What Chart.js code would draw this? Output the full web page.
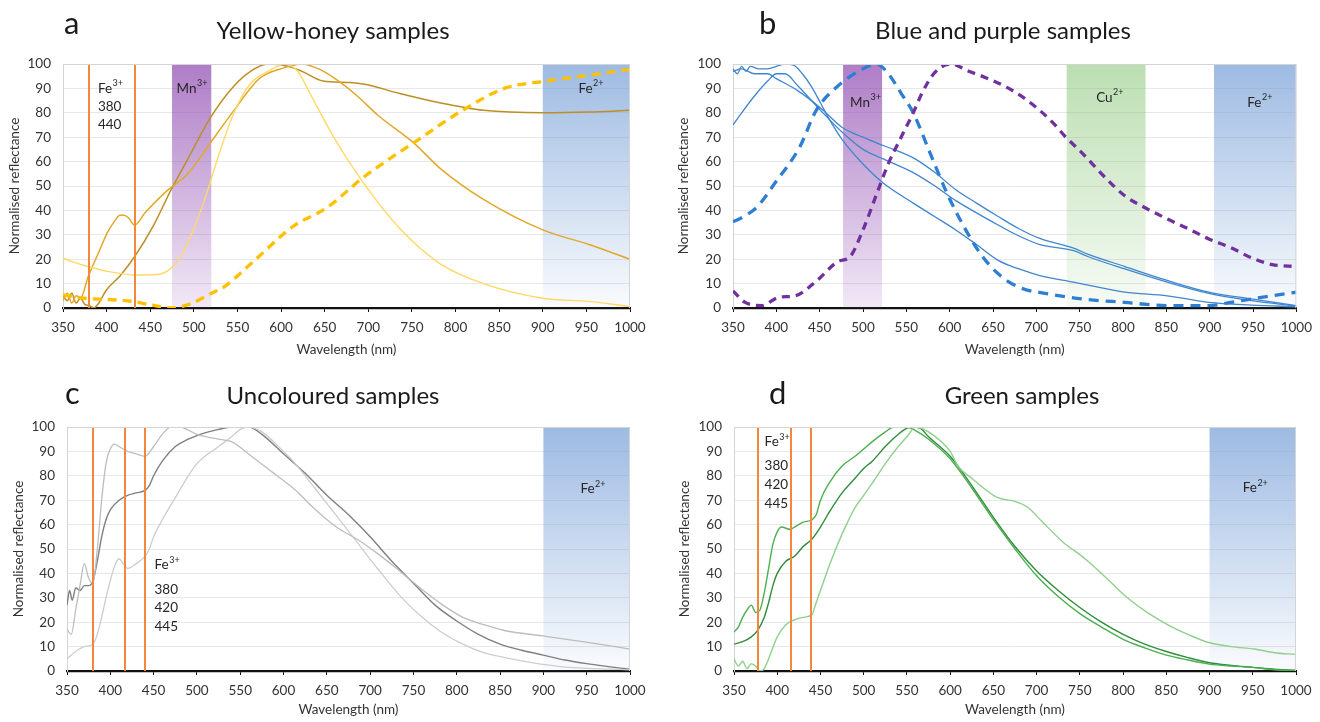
<!DOCTYPE html>
<html><head><meta charset="utf-8">
<script src="https://cdn.jsdelivr.net/npm/chart.js@4.4.1/dist/chart.umd.min.js"></script>
<style>
html,body{margin:0;padding:0;background:#fff;}
#wrap{position:relative;width:1320px;height:722px;overflow:hidden;}
canvas{position:absolute;}
</style></head><body>
<div id="wrap">
<canvas id="ca" width="660" height="361" style="left:0;top:0"></canvas>
<canvas id="cb" width="660" height="361" style="left:660px;top:0"></canvas>
<canvas id="cc" width="660" height="361" style="left:0;top:361px"></canvas>
<canvas id="cd" width="660" height="361" style="left:660px;top:361px"></canvas>
</div>
<script>
// ---------- axis ticks ----------
const xTickValues = [350,400,450,500,550,600,650,700,750,800,850,900,950,1000];
const yTickValues = [0,10,20,30,40,50,60,70,80,90,100];

// ---------- panel a : Yellow-honey ----------
const waveA_dark = [350,355,360,365,370,375,380,385,390,400,415,432,454,474,493,519,546,565,585,609,624,648,677,696,735,783,832,900,953,1000];
const valA_dark  = [5,3,6,2,4,1.5,1,0,1.5,7.5,13,21,34,48.5,61,78,91,97,100,99,97,93,92.4,91.7,88,84,81,80,80.3,81];
const waveA_mid  = [350,355,360,365,370,379,390,401,410,415,420,425,432,444,469,493,519,546,575,604,624,643,662,687,711,752,783,832,900,953,1000];
const valA_mid   = [3,6,2,5,4,13,22,31,36,38,38,37,34,39,48,55,67.7,81,94,98.5,100,98,94,87,79,67.7,57,44.5,32,26,20];
const waveA_pale = [350,360,379,401,435,454,469,483,498,512,527,546,565,585,605,619,633,662,691,735,783,832,900,953,1000];
const valA_pale  = [20.5,19,17,15,13.5,13.6,15,20,30.7,44,61,80,92,97,100,97,88,69,53,33,18,10,4,2.7,0.6];
const waveA_dash = [350,365,380,400,430,450,475,498,520,536,565,614,652,696,752,808,856,904,953,1000];
const valA_dash  = [5.4,4.5,3.8,3.5,2.7,1.3,0,2,6,9,18,33.5,41,54,67.7,81,90,93,95.4,97.8];
const linesA = [380,433];

// ---------- panel b : Blue and purple ----------
const waveB_s1 = [350,360,375,390,400,410,425,451,476,500,524,558,583,607,631,656,680,704,743,760,802,851,899,948,1000];
const valB_s1  = [75,80,87,93,96,96,91,81,72,65,61,55.5,50,44,39,34,29.5,26,23.5,21,16,10.6,6,3,0.8];
const waveB_s2 = [350,360,375,390,400,425,451,476,500,524,558,583,607,631,656,680,704,743,760,802,851,899,948,1000];
const valB_s2  = [97,98,96,96,94,89,82,74,70,66.5,61.5,55.5,48.5,43,37.5,32.5,28.5,24.5,22,17,11.3,6.5,3.7,1];
const waveB_s3 = [350,355,360,365,370,380,390,400,410,420,430,440,451,460,476,500,524,558,583,607,631,656,680,704,743,802,851,899,948,1000];
const valB_s3  = [98,96,99,97,99,98,98,99,100,99.5,96,91,84,78,69,59,51,43,37.4,32,26,19.5,16,13.3,10.6,6.5,5,2.3,1.2,0.5];
const waveB_dash = [350,360,378,398,427,446,471,500,515,527,544,558,578,597,617,636,656,680,714,753,802,851,899,924,948,972,1000];
const valB_dash  = [35.4,37,41.5,51,66,81,91,98,100,97,88,80,63,47,33,22,14,8.5,5.8,3.7,2.3,1,1,2.3,3.7,5,6.5];
const waveB_pur  = [350,364,383,403,422,446,471,485,500,515,529,544,558,568,583,602,622,641,666,690,719,734,753,778,802,826,851,875,899,924,948,972,1000];
const valB_pur   = [7,2.3,1,4.4,5,11,19,21,32,46,59,70,80,88,96.6,100,97,94.5,90.4,85,76,70,63.5,54,46,41,36.5,32.5,28.3,24.8,20.6,17.8,17];

// ---------- panel c : Uncoloured ----------
const waveC_dark = [350,353,356,360,365,370,375,380,385,390,395,400,410,420,430,440,445,450,460,475,490,500,525,540,550,560,575,600,625,650,675,700,725,750,775,800,825,850,875,900,925,950,975,1000];
const valC_dark  = [27,33,29,34,33,35,35,37,45,55,62,66,70,72,73,74,76,80,86,92,95,96.5,99,100,100,100,97,89,81,72,64,55,45,36,27,20.5,15,11,8.5,6.5,4.5,3,1.8,0.7];
const waveC_l1   = [350,360,370,380,385,390,395,400,405,410,415,420,430,440,445,450,460,475,490,500,525,540,550,560,575,600,612,636,661,685,709,734,758,782,807,831,856,880,899,925,950,975,1000];
const valC_l1    = [5,8,10,11,15,22,30,37,43,46,44,42,44,47,50,55,62,71,80,85,92,96,99,100,98,90,85.6,75,63.7,52.7,41.8,31,22.6,16,11,7.5,5.5,3.8,2.7,1.6,1.1,0.8,0.5];
const waveC_l2   = [350,355,360,365,370,375,380,385,390,395,400,405,410,420,430,440,450,460,470,480,500,525,540,563,587,612,636,661,685,709,734,758,782,807,831,856,899,953,1000];
const valC_l2    = [17,15,25,35,44,38,36,50,70,85,91,93,92,90,89,88,92,97,100,100,97,95,94,88,81.5,74.7,66.4,59,54,48,41,34,27.5,22,19,16.5,14.4,11.6,9];
const linesC = [380,417,440];

// ---------- panel d : Green ----------
const waveD_1 = [350,355,360,365,370,375,380,385,390,395,400,405,415,420,430,440,445,450,460,475,490,500,510,525,535,550,560,575,600,625,650,675,700,725,750,775,800,825,850,875,900,925,950,975,1000];
const valD_1  = [16,18,22,25,27,24,25,32,42,52,57,59,58,59,61,62,64,70,77,84,88,91,94,98,100,100,98.5,95,87,75,62,50,39,30.5,23.5,18,13,9.5,6.5,4.5,2.8,2,1.5,0.5,0.2];
const waveD_2 = [350,360,370,378,385,390,395,400,410,420,430,440,450,460,475,490,500,510,525,540,550,555,565,575,600,625,650,675,700,725,750,775,800,825,850,875,900,925,950,975,1000];
const valD_2  = [11,12,14,17,22,28,35,40,45,47,51,54,59,65,73,79,83,86,92,97,99.5,100,99.5,96,88,76,63,51,41,33,26,20,15,11,8,5.5,3.4,2.3,1.5,0.7,0.3];
const waveD_3 = [350,355,360,365,370,375,380,385,390,400,410,420,430,440,445,450,460,470,480,490,500,510,525,540,550,560,575,600,609,625,650,660,675,690,707,730,756,781,805,830,854,875,898,925,952,975,1000];
const valD_3  = [5,2,4,1,3,2,0,1,5,14,19,21,22,23,28,33,43,52,60,67,72,77,85,92,96,100,98,90,84,79,72,70.5,69.5,67,61,53,46,38,30,23.5,18.5,15,11.8,10,9,7.5,6.8];
const linesD = [378,416,439];

// ---------- styling ----------
const FONT = 'Lato, "Open Sans", sans-serif';
const ORANGE = '#F4873A';
const BAND_FE2 = ['rgba(120,160,215,0.72)','rgba(120,160,215,0.04)'];
const BAND_MN3 = ['rgba(140,70,175,0.70)','rgba(140,70,175,0.12)'];
const BAND_CU2 = ['rgba(120,190,100,0.50)','rgba(120,190,100,0.06)'];

function pts(xs, ys){ return xs.map((x,i)=>({x:x, y:ys[i]})); }
function solid(xs, ys, color, w){ return {data:pts(xs,ys), borderColor:color, borderWidth:w||1.4, pointRadius:0, cubicInterpolationMode:'monotone', fill:false}; }
function dashed(xs, ys, color, w, dash){ return {data:pts(xs,ys), borderColor:color, borderWidth:w||3, borderDash:dash||[9,6], pointRadius:0, cubicInterpolationMode:'monotone', fill:false}; }

function drawLabel(ctx, txt, sup, px, py, align){
  const LS = 13.5, SS = 9;
  ctx.font = LS+'px '+FONT; const w1 = ctx.measureText(txt).width;
  ctx.font = SS+'px '+FONT; const w2 = sup ? ctx.measureText(sup).width : 0;
  const x0 = align==='center' ? px-(w1+w2)/2 : px;
  ctx.textAlign='left'; ctx.textBaseline='middle'; ctx.fillStyle='#262626';
  ctx.font = LS+'px '+FONT; ctx.fillText(txt, x0, py);
  if (sup){ ctx.font = SS+'px '+FONT; ctx.fillText(sup, x0+w1+0.5, py-5); }
}

function makeChart(id, cfg){
  const area = cfg.area, ox = cfg.ox, oy = cfg.oy;
  const deco = {
    id:'deco'+id,
    beforeDatasetsDraw(chart){
      const ctx = chart.ctx, ca = chart.chartArea, x = chart.scales.x;
      ctx.save();
      cfg.bands.forEach(b=>{
        const x0 = x.getPixelForValue(b.from), x1 = x.getPixelForValue(b.to);
        const g = ctx.createLinearGradient(0, ca.top, 0, ca.bottom);
        g.addColorStop(0, b.c[0]); g.addColorStop(1, b.c[1]);
        ctx.fillStyle = g; ctx.fillRect(x0, ca.top, x1-x0, ca.bottom-ca.top);
      });
      ctx.restore();
    },
    afterDatasetsDraw(chart){
      const ctx = chart.ctx, ca = chart.chartArea, x = chart.scales.x, y = chart.scales.y;
      ctx.save();
      cfg.lines.forEach(v=>{
        const px = Math.round(x.getPixelForValue(v));
        ctx.strokeStyle = ORANGE; ctx.lineWidth = 2;
        ctx.beginPath(); ctx.moveTo(px, ca.top); ctx.lineTo(px, ca.bottom); ctx.stroke();
      });
      cfg.labels.forEach(l=>{
        drawLabel(ctx, l.t, l.s, x.getPixelForValue(l.x), y.getPixelForValue(l.y), l.a);
      });
      ctx.strokeStyle = '#D4D4D4'; ctx.lineWidth = 1;
      ctx.beginPath();
      ctx.moveTo(ca.left, ca.top+0.5); ctx.lineTo(ca.right-0.5, ca.top+0.5); ctx.lineTo(ca.right-0.5, ca.bottom);
      ctx.stroke();
      ctx.restore();
    },
    afterDraw(chart){
      const ctx = chart.ctx, ca = chart.chartArea;
      ctx.save();
      ctx.fillStyle = '#1a1a1a';
      ctx.textBaseline = 'alphabetic';
      ctx.textAlign = 'left';
      ctx.font = '31px '+FONT;
      ctx.fillText(cfg.letter[0], cfg.letter[1]-ox, cfg.letter[2]-oy);
      ctx.textAlign = 'center';
      ctx.font = '24px '+FONT;
      ctx.fillText(cfg.title[0], cfg.title[1]-ox, cfg.title[2]-oy);
      ctx.fillStyle = '#333';
      ctx.font = '13.5px '+FONT;
      ctx.textBaseline = 'middle';
      ctx.fillText('Wavelength (nm)', (ca.left+ca.right)/2, ca.bottom + cfg.xTitleOff);
      ctx.translate(cfg.yTitleX-ox, (ca.top+ca.bottom)/2);
      ctx.rotate(-Math.PI/2);
      ctx.fillText('Normalised reflectance', 0, 0);
      ctx.restore();
    }
  };
  return new Chart(document.getElementById(id), {
    type:'line',
    data:{datasets:cfg.datasets},
    options:{
      responsive:false, animation:false, events:[],
      layout:{padding:{left:0, top:area.t-oy, right:660-(area.r-ox), bottom:0}},
      plugins:{legend:{display:false}, tooltip:{enabled:false}, title:{display:false}},
      scales:{
        x:{type:'linear', min:350, max:1000,
          afterBuildTicks(s){ s.ticks = xTickValues.map(v=>({value:v})); },
          ticks:{autoSkip:false, maxRotation:0, minRotation:0, padding:8, color:'#333', font:{family:FONT, size:13.5},
                 callback:(v)=>String(v)},
          grid:{drawOnChartArea:false, drawTicks:true, tickLength:4, color:'#111', lineWidth:1},
          border:{color:'#111', width:2.2},
          afterFit(s){ s.height = 361-(area.b-oy); }
        },
        y:{min:0, max:100,
          afterBuildTicks(s){ s.ticks = yTickValues.map(v=>({value:v})); },
          ticks:{padding:12, color:'#333', font:{family:FONT, size:13.5}, callback:(v)=>String(v)},
          grid:{color:'#E8E8E8', drawTicks:false, lineWidth:1},
          border:{color:'#D4D4D4', width:1},
          afterFit(s){ s.width = area.l-ox; }
        }
      }
    },
    plugins:[deco]
  });
}

makeChart('ca', {
  ox:0, oy:0, area:{l:63, r:630, t:64, b:308},
  letter:['a',64,34], title:['Yellow-honey samples',333,39], yTitleX:15, xTitleOff:42,
  bands:[{from:475,to:520,c:BAND_MN3},{from:900,to:1000,c:BAND_FE2}],
  lines:linesA,
  labels:[{t:'Fe',s:'3+',x:390,y:90,a:'left'},{t:'380',x:390,y:82.5,a:'left'},{t:'440',x:390,y:75,a:'left'},
          {t:'Mn',s:'3+',x:497.5,y:90,a:'center'},{t:'Fe',s:'2+',x:955,y:90,a:'center'}],
  datasets:[
    dashed(waveA_dash, valA_dash, '#FFC000', 3.3, [9,6]),
    solid(waveA_pale, valA_pale, '#FFD966', 1.4),
    solid(waveA_mid, valA_mid, '#E2A82A', 1.5),
    solid(waveA_dark, valA_dark, '#BC8F24', 1.5)
  ]
});

makeChart('cb', {
  ox:660, oy:0, area:{l:733, r:1300, t:64, b:308},
  letter:['b',759,34], title:['Blue and purple samples',1003,39], yTitleX:684, xTitleOff:42,
  bands:[{from:477,to:522,c:BAND_MN3},{from:735,to:826,c:BAND_CU2},{from:905,to:1000,c:BAND_FE2}],
  lines:[],
  labels:[{t:'Mn',s:'3+',x:502.5,y:84.2,a:'center'},{t:'Cu',s:'2+',x:784.5,y:86.3,a:'center'},{t:'Fe',s:'2+',x:957.6,y:84.2,a:'center'}],
  datasets:[
    dashed(waveB_pur, valB_pur, '#7030A0', 3.3, [8,6]),
    dashed(waveB_dash, valB_dash, '#2E7FD2', 3.3, [10,7]),
    solid(waveB_s1, valB_s1, '#3F86CF', 1.3),
    solid(waveB_s2, valB_s2, '#3F86CF', 1.3),
    solid(waveB_s3, valB_s3, '#3F86CF', 1.3)
  ]
});

makeChart('cc', {
  ox:0, oy:361, area:{l:67, r:630, t:427, b:671},
  letter:['c',65,404], title:['Uncoloured samples',333,404], yTitleX:19, xTitleOff:39,
  bands:[{from:900,to:1000,c:BAND_FE2}],
  lines:linesC,
  labels:[{t:'Fe',s:'3+',x:451,y:43.6,a:'left'},{t:'380',x:451,y:33.4,a:'left'},{t:'420',x:451,y:25.8,a:'left'},{t:'445',x:451,y:18.2,a:'left'},
          {t:'Fe',s:'2+',x:957,y:74.6,a:'center'}],
  datasets:[
    solid(waveC_l2, valC_l2, '#BDBDBD', 1.3),
    solid(waveC_l1, valC_l1, '#CDCDCD', 1.3),
    solid(waveC_dark, valC_dark, '#7F7F7F', 1.4)
  ]
});

makeChart('cd', {
  ox:660, oy:361, area:{l:734, r:1296, t:427, b:671},
  letter:['d',769,404], title:['Green samples',1022,404], yTitleX:685, xTitleOff:39,
  bands:[{from:900,to:1000,c:BAND_FE2}],
  lines:linesD,
  labels:[{t:'Fe',s:'3+',x:385.4,y:93.9,a:'left'},{t:'380',x:385.4,y:84,a:'left'},{t:'420',x:385.4,y:76.2,a:'left'},{t:'445',x:385.4,y:68.4,a:'left'},
          {t:'Fe',s:'2+',x:952.6,y:75,a:'center'}],
  datasets:[
    solid(waveD_3, valD_3, '#8FD08C', 1.4),
    solid(waveD_1, valD_1, '#4CAF50', 1.4),
    solid(waveD_2, valD_2, '#2F8C3B', 1.4)
  ]
});
</script>
</body></html>
